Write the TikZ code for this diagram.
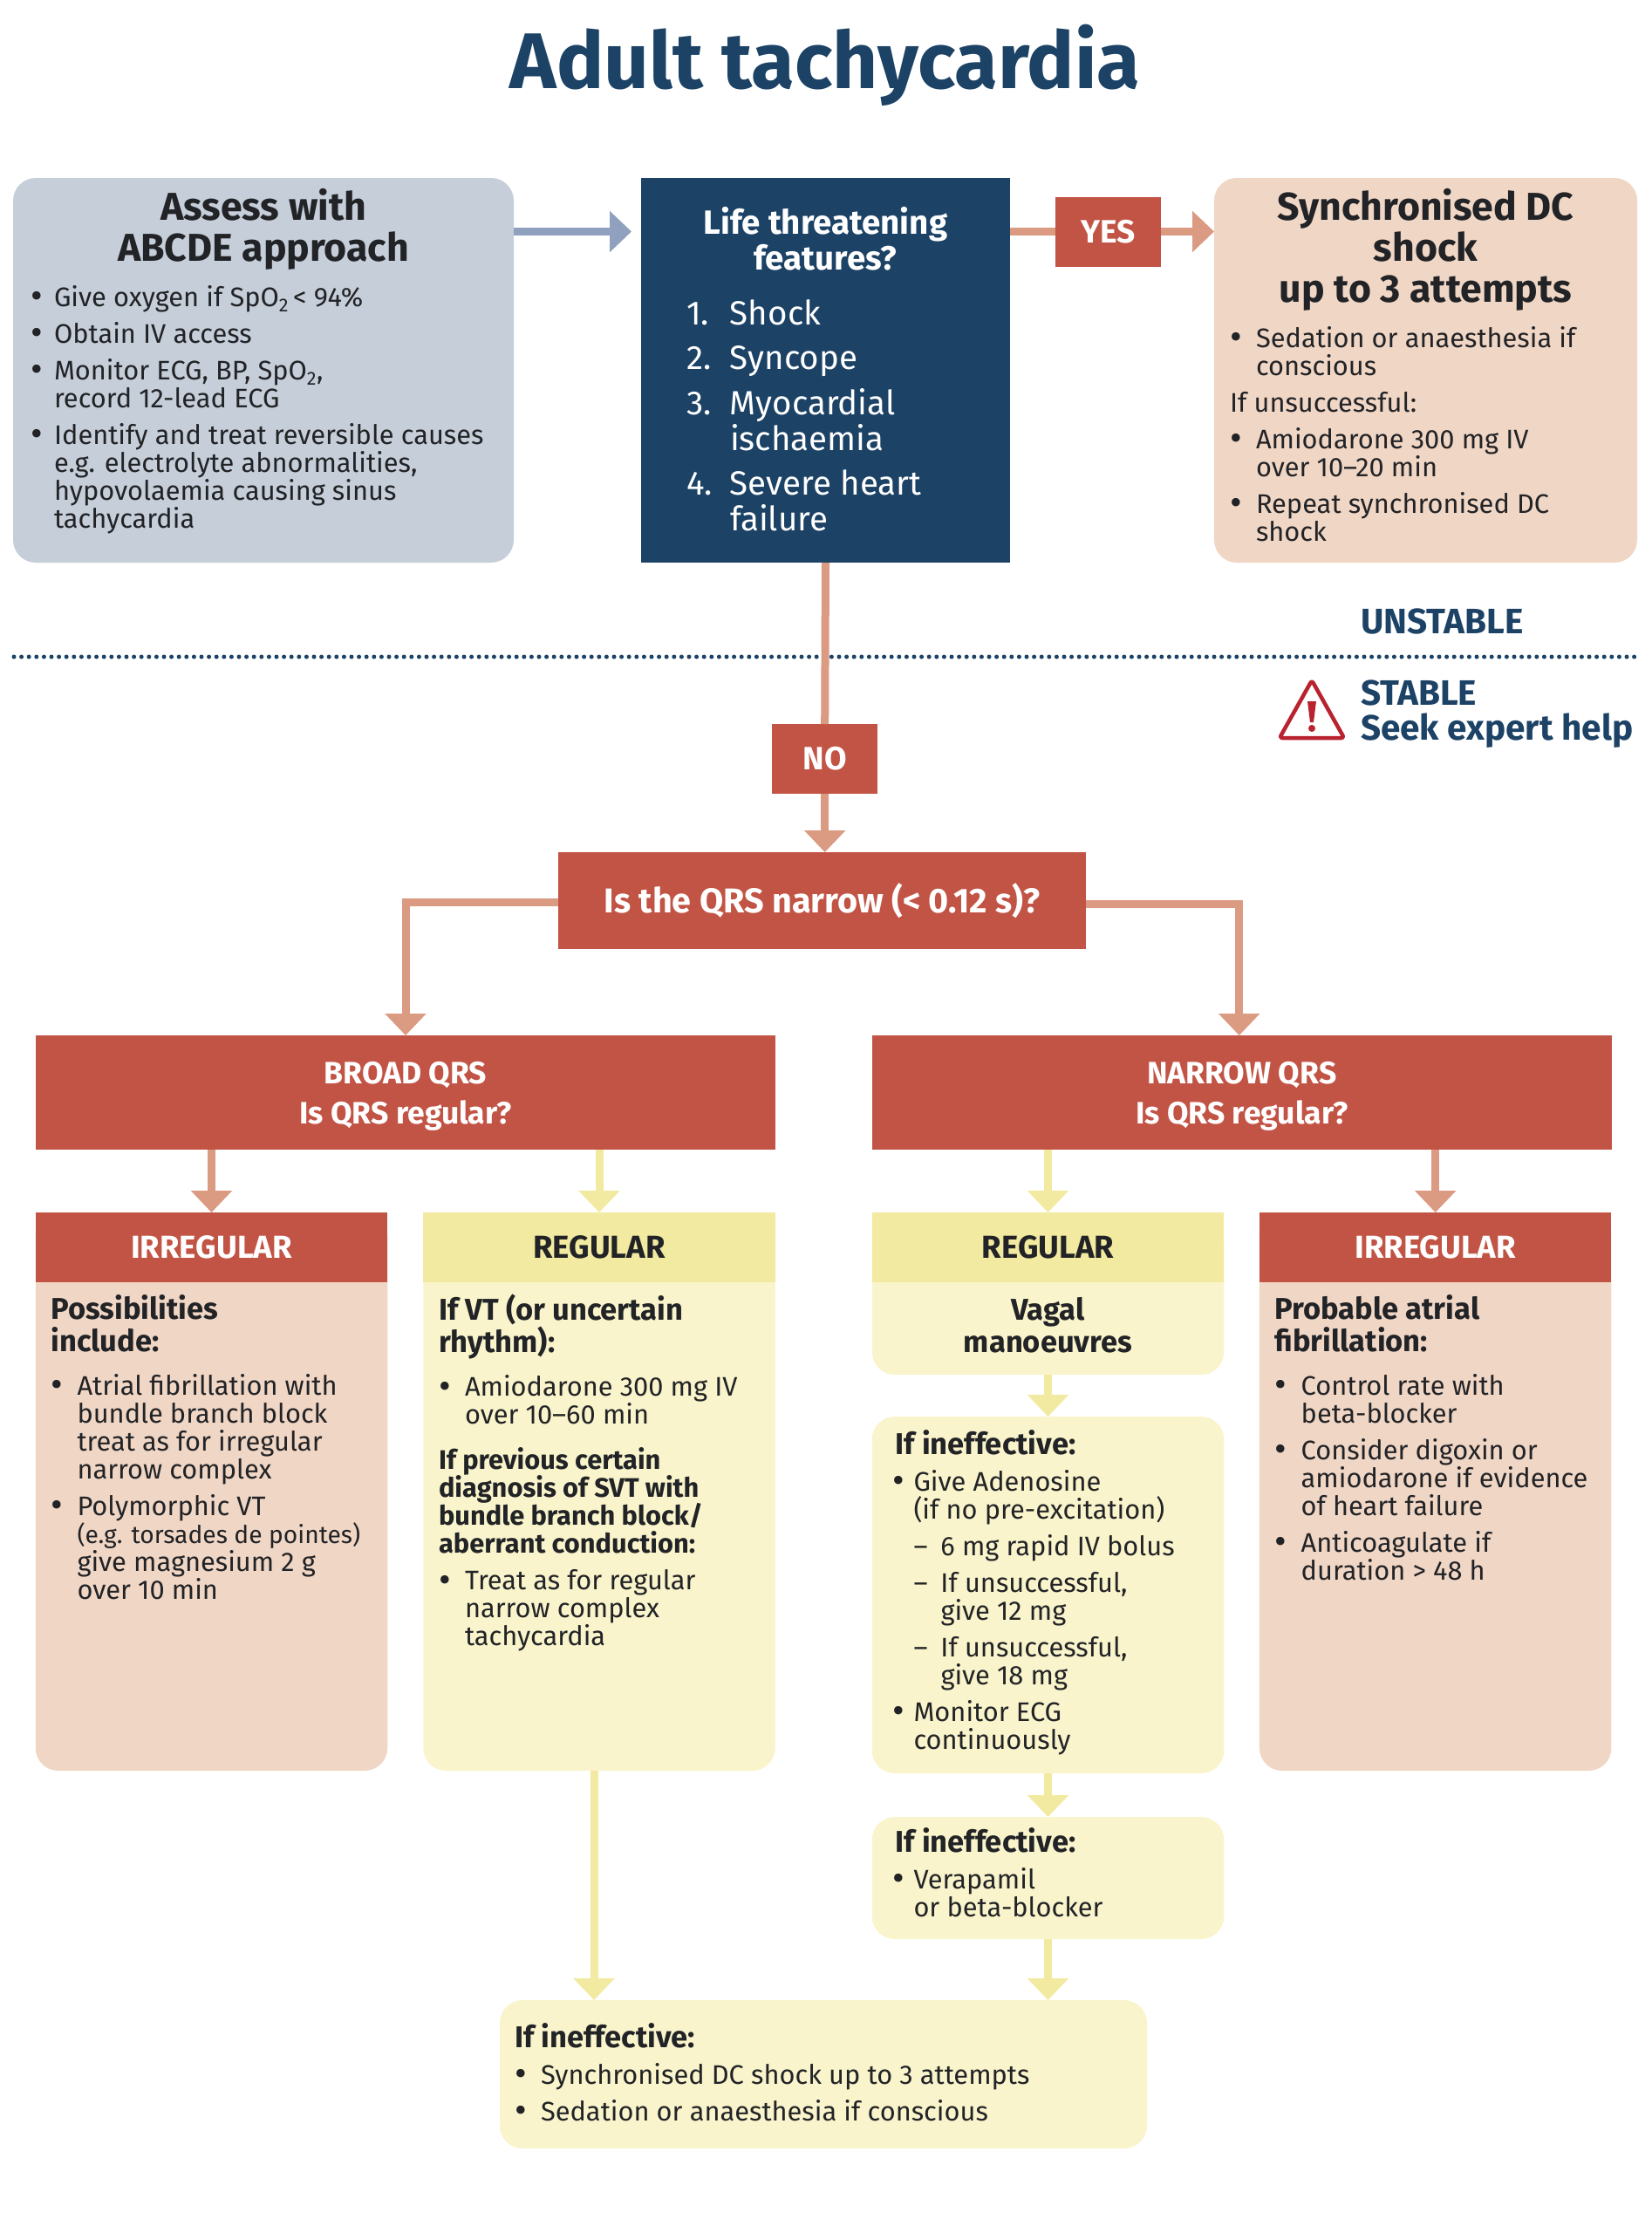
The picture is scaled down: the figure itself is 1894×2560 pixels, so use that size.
\documentclass[tikz,border=0pt]{standalone}
\usepackage{fontspec}
\setmainfont{Fira Sans}
\usetikzlibrary{positioning,arrows.meta}

\definecolor{navy}{HTML}{1C4266}
\definecolor{greybox}{HTML}{C5CED9}
\definecolor{greyline}{HTML}{8FA1BF}
\definecolor{salmonbox}{HTML}{F0D6C5}
\definecolor{salmonline}{HTML}{DB9A82}
\definecolor{redbox}{HTML}{C25445}
\definecolor{yellowbox}{HTML}{F9F4CB}
\definecolor{yellowhead}{HTML}{F2EAA0}
\definecolor{warnred}{HTML}{B8232F}
\definecolor{ink}{HTML}{222326}

\newcommand{\hangitem}[3]{\par\hangindent=#2\hangafter=1\noindent\makebox[#2][l]{#1}#3\par}
\newcommand{\bulmark}{\raisebox{-2.5pt}{\fontsize{42pt}{32pt}\selectfont\textbullet}}
\newcommand{\bul}[2][30pt]{\hangitem{\bulmark}{#1}{#2}}
\newcommand{\dashitem}[1]{\hangitem{\hspace{24pt}–}{55pt}{#1}}
% width, height, item gap, top gap, text
\newcommand{\content}[5]{\begin{minipage}[c][#2][t]{#1}\fontsize{30.8pt}{32pt}\selectfont\setlength{\parskip}{#3}\vspace*{#4}#5\end{minipage}}
\newcommand{\bighead}[1]{{\centering\fontsize{44.6pt}{47pt}\selectfont\bfseries #1\par}\vspace{7pt}}
\newcommand{\subhead}[1]{{\fontsize{34.5pt}{37pt}\selectfont\bfseries #1\par}}

\begin{document}
\begin{tikzpicture}[x=1pt,y=-1pt,>={Triangle[length=25pt,width=46pt]}]
  \tikzstyle{plain}=[rectangle,outer sep=0pt,inner sep=0pt,align=center]
  \tikzstyle{softbox}=[plain,rounded corners=26pt]
  \tikzstyle{redtag}=[plain,fill=redbox,text=white,minimum width=121pt,minimum height=80pt,font=\fontsize{37pt}{40pt}\selectfont\bfseries]
  \tikzstyle{redhead}=[plain,fill=redbox,text=white,minimum width=403.5pt,minimum height=80pt,font=\fontsize{36.5pt}{46pt}\selectfont\bfseries]
  \tikzstyle{yellowtop}=[plain,fill=yellowhead,text=ink,minimum width=403.5pt,minimum height=80pt,font=\fontsize{36.5pt}{46pt}\selectfont\bfseries]
  \tikzstyle{redbar}=[plain,fill=redbox,text=white,minimum width=848pt,minimum height=131pt,font=\fontsize{35.5pt}{46pt}\selectfont\bfseries]
  \tikzstyle{zonelabel}=[plain,text=navy,font=\fontsize{40.5pt}{40pt}\selectfont\bfseries]
  \tikzstyle{column}=[minimum width=403.5pt,text=ink]
  \tikzstyle{flow}=[line width=9pt,salmonline]
  \tikzstyle{flowy}=[line width=9pt,yellowhead]

  \useasboundingbox (0,0) rectangle (1894,2560);

  \node[text=navy,font=\fontsize{90.5pt}{100pt}\selectfont\bfseries] (title) at (946,75) {Adult tachycardia};

  % unstable part
  \node[softbox,fill=greybox,text=ink,minimum width=574pt,minimum height=441pt] (abcde) at (302,424.5)
    {\content{534pt}{441pt}{10pt}{12pt}{\bighead{Assess with\\ABCDE approach}
      \bul[27pt]{Give oxygen if SpO\textsubscript{2}\,< 94\%}
      \bul[27pt]{Obtain IV access}
      \bul[27pt]{Monitor ECG, BP, SpO\textsubscript{2},\\record 12-lead ECG}
      \bul[27pt]{Identify and treat reversible causes\\e.g. electrolyte abnormalities,\\hypovolaemia causing sinus\\tachycardia}}};

  \node[plain,fill=navy,text=white,minimum width=423pt,minimum height=441pt] (life) at (946.5,424.5)
    {\begin{minipage}[c][441pt][t]{423pt}\vspace*{33.5pt}\fontsize{38.5pt}{41pt}\selectfont
      {\centering\bfseries Life threatening\\features?\par}
      \leftskip=52pt\setlength{\parskip}{10.5pt}\vspace{11pt}
      \hangitem{1.}{50pt}{Shock}
      \hangitem{2.}{50pt}{Syncope}
      \hangitem{3.}{50pt}{Myocardial\\ischaemia}
      \hangitem{4.}{50pt}{Severe heart\\failure}
    \end{minipage}};

  \node[redtag] (yes) at (1270.5,265.5) {YES};

  \node[softbox,fill=salmonbox,text=ink,minimum width=485pt,minimum height=441pt] (sync) at (1634.5,424.5)
    {\content{449pt}{441pt}{10pt}{12pt}{\bighead{Synchronised DC\\shock\\up to 3 attempts}
      \bul{Sedation or anaesthesia if\\conscious}
      \noindent If unsuccessful:\par
      \bul{Amiodarone 300 mg IV\\over 10–20 min}
      \bul{Repeat synchronised DC\\shock}}};

  \node[zonelabel,anchor=west] (unstable) at (1560,712) {UNSTABLE};
  \node[zonelabel,anchor=north west,align=left] (stable) at (1560,780) {STABLE\\Seek expert help};

  \coordinate (dotleft) at (16,753);
  \coordinate (dotright) at (1879,753);
  \draw[navy,line width=5pt,line cap=round,dash pattern=on 0pt off 8.6pt] (dotleft) -- (dotright);

  \draw[warnred,line width=4.5pt,rounded corners=3pt,line join=round] (1504,780) -- (1541,846) -- (1467,846) -- cycle;
  \fill[warnred] (1499,804) -- (1509,804) -- (1506,828) -- (1502,828) -- cycle;
  \fill[warnred] (1504,835) circle (4pt);

  % stable part
  \node[redtag] (no) at (945.7,870) {NO};

  \node[plain,fill=redbox,text=white,minimum width=605pt,minimum height=111pt,font=\fontsize{39.5pt}{42pt}\selectfont\bfseries] (qrs) at (942.5,1032.5) {Is the QRS narrow (< 0.12 s)?};

  \node[redbar] (broad) at (465,1252.5) {\rule{0pt}{34pt}BROAD QRS\\Is QRS regular?};
  \node[redbar] (narrow) at (1423.7,1252.5) {\rule{0pt}{34pt}NARROW QRS\\Is QRS regular?};

  % columns: bodies first, the square header lies over their top
  \node[softbox,column,fill=salmonbox,minimum height=640pt] (irrbroadbody) at (242.5,1710)
    {\content{368pt}{640pt}{10pt}{94pt}{\subhead{Possibilities\\include:}\vspace{8pt}
      \bul{Atrial fibrillation with\\bundle branch block\\treat as for irregular\\narrow complex}
      \bul{Polymorphic VT\\\mbox{\fontsize{28.2pt}{32pt}\selectfont (e.g. torsades de pointes)}\\give magnesium 2 g\\over 10 min}}};
  \node[redhead] (irrbroad) at (242.5,1430) {IRREGULAR};

  \node[softbox,column,fill=yellowbox,minimum height=640pt] (regbroadbody) at (687,1710)
    {\content{368pt}{640pt}{10pt}{94pt}{\subhead{If VT (or uncertain\\rhythm):}\vspace{8pt}
      \bul{Amiodarone 300 mg IV\\over 10–60 min}\vspace{10pt}
      {\bfseries If previous certain\\diagnosis of SVT with\\bundle branch block/\\aberrant conduction:\par}
      \bul{Treat as for regular\\narrow complex\\tachycardia}}};
  \node[yellowtop] (regbroad) at (687,1430) {REGULAR};

  \node[softbox,column,fill=yellowbox,minimum height=176pt] (vagal) at (1201.5,1488)
    {\content{368pt}{176pt}{0pt}{87pt}{\subhead{\centering Vagal\\manoeuvres}}};
  \node[yellowtop] (regnarrow) at (1201.5,1430) {REGULAR};

  \node[softbox,column,fill=yellowbox,minimum height=409pt] (adenosine) at (1201.5,1828.5)
    {\content{356pt}{409pt}{10pt}{15pt}{\subhead{\hspace*{3pt}If ineffective:}
      \bul[24pt]{Give Adenosine\\(if no pre-excitation)}
      \dashitem{6 mg rapid IV bolus}
      \dashitem{If unsuccessful,\\give 12 mg}
      \dashitem{If unsuccessful,\\give 18 mg}
      \bul[24pt]{Monitor ECG\\continuously}}};

  \node[softbox,column,fill=yellowbox,minimum height=140pt] (verapamil) at (1201.5,2153)
    {\content{356pt}{140pt}{10pt}{12pt}{\subhead{\hspace*{3pt}If ineffective:}
      \bul[24pt]{Verapamil\\or beta-blocker}}};

  \node[softbox,column,fill=salmonbox,minimum height=640pt] (irrnarrowbody) at (1645.7,1710)
    {\content{368pt}{640pt}{10pt}{94pt}{\subhead{Probable atrial\\fibrillation:}\vspace{8pt}
      \bul{Control rate with\\beta-blocker}
      \bul{Consider digoxin or\\amiodarone if evidence\\of heart failure}
      \bul{Anticoagulate if\\duration > 48 h}}};
  \node[redhead] (irrnarrow) at (1645.7,1430) {IRREGULAR};

  \node[softbox,fill=yellowbox,text=ink,minimum width=742pt,minimum height=170pt] (lastbox) at (944,2378)
    {\content{708pt}{170pt}{10pt}{26pt}{\subhead{If ineffective:}
      \bul{Synchronised DC shock up to 3 attempts}
      \bul{Sedation or anaesthesia if conscious}}};

  % connectors
  \draw[greyline,line width=9pt,->,shorten >=11pt] (abcde.east |- yes) -- (life.west |- yes);
  \draw[flow] (life.east |- yes) -- (yes.west);
  \draw[flow,->] (yes.east) -- (yes.east -| sync.west);
  \draw[flow] (life.south) -- (no.north);
  \draw[flow,->] (no.south) -- (no.south |- qrs.north);
  \draw[flow,->] ([yshift=-2pt]qrs.west) -| (broad.north);
  \draw[flow,->] ([yshift=-4pt]qrs.east) -| ([xshift=-3pt]narrow.north);
  \draw[flow,->] (broad.south -| irrbroad.north) -- (irrbroad.north);
  \draw[flowy,->] (broad.south -| regbroad.north) -- (regbroad.north);
  \draw[flowy,->] (narrow.south -| regnarrow.north) -- (regnarrow.north);
  \draw[flow,->] (narrow.south -| irrnarrow.north) -- (irrnarrow.north);
  \draw[flowy,->] (vagal.south) -- (adenosine.north);
  \draw[flowy,->] (adenosine.south) -- (verapamil.north);
  \draw[flowy,->] ([xshift=-6pt]regbroadbody.south) -- ([xshift=-6pt]regbroadbody.south |- lastbox.north);
  \draw[flowy,->] (verapamil.south) -- (verapamil.south |- lastbox.north);

\end{tikzpicture}
\end{document}
